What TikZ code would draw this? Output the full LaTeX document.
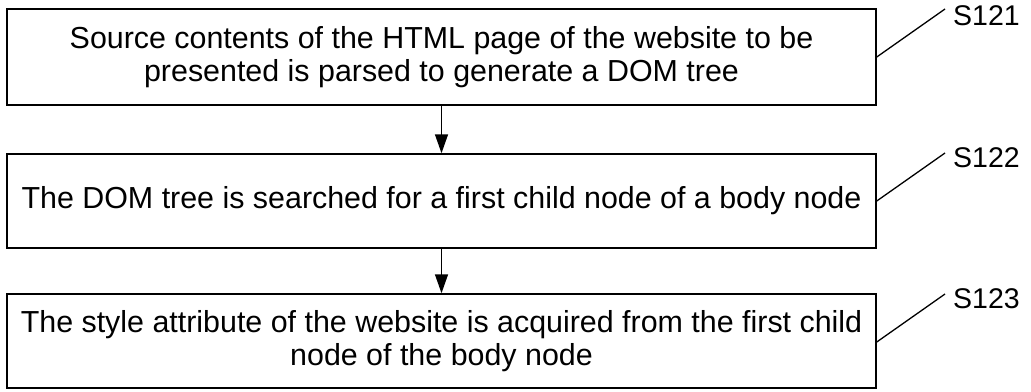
\documentclass[tikz,border=0pt]{standalone}
\usepackage{fontspec}
\setmainfont{Liberation Sans}
\usetikzlibrary{arrows.meta}
\begin{document}
\begin{tikzpicture}[x=1pt,y=-1pt,
  stepbox/.style={draw,line width=1.5pt,minimum width=869pt,inner sep=0pt,
    align=center,font=\fontsize{30.4}{33.5}\selectfont},
  steplabel/.style={anchor=west,inner sep=0pt,font=\fontsize{28.5}{32}\selectfont},
  leader/.style={line width=1.3pt},
  flow/.style={line width=1.5pt,-{Triangle[width=13pt,length=19pt]}}]
\useasboundingbox (0,0) rectangle (1031,391);
\node[stepbox,minimum height=96pt] (b1) at (441.5,57)
  {Source contents of the HTML page of the website to be\\presented is parsed to generate a DOM tree};
\node[stepbox,minimum height=94pt] (b2) at (441.5,201)
  {The DOM tree is searched for a first child node of a body node};
\node[stepbox,minimum height=94pt] (b3) at (441.5,341)
  {The style attribute of the website is acquired from the first child\\node of the body node};
\draw[flow] (b1.south) -- (b2.north);
\draw[flow] (b2.south) -- (b3.north);
\coordinate (e1) at (945,9);
\coordinate (e2) at (945,153);
\coordinate (e3) at (945,294);
\node[steplabel] (l1) at (953,16) {S121};
\node[steplabel] (l2) at (953,158) {S122};
\node[steplabel] (l3) at (953,299) {S123};
\draw[leader] (b1.east |- 0,57) -- (e1);
\draw[leader] (b2.east |- 0,201) -- (e2);
\draw[leader] (b3.east |- 0,342) -- (e3);
\end{tikzpicture}
\end{document}
